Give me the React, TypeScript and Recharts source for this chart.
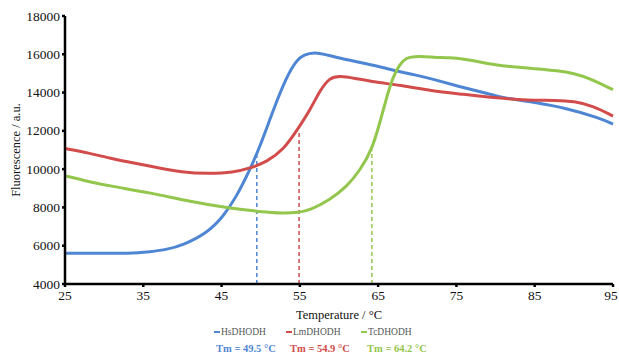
import { LineChart, Line, XAxis, YAxis, ReferenceLine, Label } from 'recharts'

// melt curves
const hsTemp = [25, 30, 33, 36, 38, 40.1, 43.1, 45.2, 46.9, 48.6, 49.9, 51.6, 53.3, 54.6, 55.5, 56.9, 58.2, 60.1, 63.5, 66.9, 70, 72, 75, 78, 80.5, 83, 84.8, 89, 93.3, 95]
const hsValues = [5600, 5620, 5580, 5690, 5800, 6040, 6650, 7510, 8560, 9950, 11170, 13090, 14830, 15700, 15980, 16110, 16000, 15790, 15520, 15170, 14900, 14700, 14350, 14050, 13770, 13600, 13500, 13190, 12670, 12350]

const lmTemp = [25, 28, 31, 33, 35.9, 40, 43.5, 46.5, 48.6, 50.8, 52.9, 54.8, 56.3, 57.6, 58.8, 60.1, 62, 64.3, 67.8, 72, 75, 80.5, 84, 87.8, 90, 92.5, 95]
const lmValues = [11080, 10850, 10550, 10380, 10160, 9820, 9760, 9830, 10040, 10390, 11000, 12130, 13090, 14130, 14780, 14880, 14750, 14560, 14390, 14080, 13950, 13700, 13600, 13600, 13550, 13300, 12770]

const tcTemp = [25, 28, 31, 35.9, 41, 46.1, 49.9, 52.9, 54.8, 56.3, 58.8, 61, 62.7, 64.2, 65.2, 66.1, 66.9, 67.8, 68.6, 69.6, 71, 72.5, 74, 76, 78, 80, 82, 85, 88, 90, 92, 95]
const tcValues = [9650, 9350, 9100, 8770, 8300, 7950, 7780, 7690, 7740, 7860, 8390, 9080, 9950, 11000, 12400, 13780, 14830, 15500, 15820, 15890, 15880, 15830, 15830, 15750, 15600, 15450, 15350, 15250, 15150, 15000, 14750, 14150]

const seriesNames = ['HsDHODH', 'LmDHODH', 'TcDHODH']
const tmValues = [49.5, 54.9, 64.2]
const tmTops = [10740, 12050, 11000]
const colors = ['#4f86d3', '#d24c4c', '#93c64c']

const xTicks = [25, 35, 45, 55, 65, 75, 85, 95]
const yTicks = [4000, 6000, 8000, 10000, 12000, 14000, 16000, 18000]

const toRows = (t: number[], v: number[]) => t.map((x, i) => ({ temp: x, value: v[i] }))
const seriesData = [toRows(hsTemp, hsValues), toRows(lmTemp, lmValues), toRows(tcTemp, tcValues)]

const font = '"Liberation Serif", "DejaVu Serif", serif'

const XTick = ({ x, y, payload }: any) => (
  <text x={x} y={y + 11} textAnchor="middle" fontFamily={font} fontSize={13.5} fill="#111">
    {payload.value}
  </text>
)

const YTick = ({ x, y, payload }: any) => (
  <text x={x} y={y + 4.5} textAnchor="end" fontFamily={font} fontSize={13.5} fill="#111">
    {payload.value}
  </text>
)

export default function App() {
  return (
    <div style={{ position: 'absolute', left: 0, top: 0, width: 619, height: 358, background: '#fff', fontFamily: font }}>
      <LineChart width={619} height={358} margin={{ top: 16, right: 6, left: 0, bottom: 44 }}>
        <XAxis
          dataKey="temp"
          type="number"
          domain={[25, 95]}
          ticks={xTicks}
          allowDuplicatedCategory={false}
          height={30}
          stroke="#000"
          strokeWidth={2.5}
          tickSize={3}
          tick={<XTick />}
        >
          <Label value="Temperature / °C" position="insideBottom" offset={-5} style={{ fill: '#111', fontSize: 12.5, fontFamily: font }} />
        </XAxis>
        <YAxis
          type="number"
          domain={[4000, 18000]}
          ticks={yTicks}
          width={65}
          stroke="#000"
          strokeWidth={2.5}
          tickSize={3}
          tick={<YTick />}
        >
          <Label value="Fluorescence / a.u." angle={-90} position="insideLeft" offset={16} style={{ textAnchor: 'middle', fill: '#111', fontSize: 12.5, fontFamily: font }} />
        </YAxis>
        {tmValues.map((tm, i) => (
          <ReferenceLine
            key={'tm' + i}
            segment={[{ x: tm, y: 4000 }, { x: tm, y: tmTops[i] }]}
            stroke={colors[i]}
            strokeWidth={1.5}
            strokeDasharray="4 3"
          />
        ))}
        {seriesData.map((d, i) => (
          <Line
            key={seriesNames[i]}
            data={d}
            dataKey="value"
            name={seriesNames[i]}
            type="basis"
            stroke={colors[i]}
            strokeWidth={3}
            dot={false}
            isAnimationActive={false}
          />
        ))}
      </LineChart>
      {seriesNames.map((n, i) => (
        <div key={n} style={{ position: 'absolute', left: [214, 286, 361][i], top: 327, fontSize: 9.5, color: '#555', whiteSpace: 'nowrap', display: 'flex', alignItems: 'center' }}>
          <span style={{ display: 'inline-block', width: 6, height: 2.5, background: colors[i], marginRight: 1 }} />
          {n}
        </div>
      ))}
      {tmValues.map((tm, i) => (
        <div key={'t' + i} style={{ position: 'absolute', left: [216, 290, 367][i], top: 343, fontSize: 10.5, fontWeight: 'bold', color: colors[i], whiteSpace: 'nowrap' }}>
          {`Tm =  ${tm} °C`}
        </div>
      ))}
    </div>
  )
}
